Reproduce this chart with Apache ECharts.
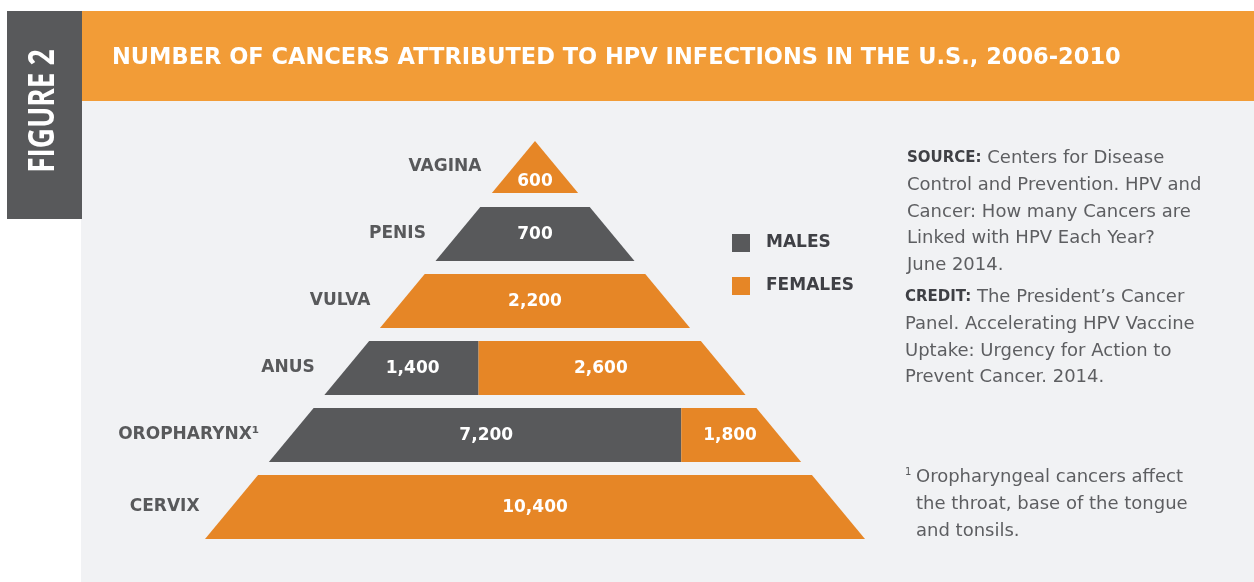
<!DOCTYPE html>
<html>
<head>
<meta charset="utf-8">
<title>Number of cancers attributed to HPV infections in the U.S., 2006-2010</title>
<script src="https://cdn.jsdelivr.net/npm/echarts@6/dist/echarts.min.js"></script>
<style>
  html, body { margin: 0; padding: 0; background: #fff; }
  #chart { width: 1254px; height: 582px; }
</style>
</head>
<body>
<div id="chart"></div>
<script>
// cancer sites, from the top of the pyramid down
const sites = ["VAGINA", "PENIS", "VULVA", "ANUS", "OROPHARYNX¹", "CERVIX"];
const males = [0, 700, 0, 1400, 7200, 0];
const females = [600, 0, 2200, 2600, 1800, 10400];
const legendNames = ["MALES", "FEMALES"];

const GRAY = "#58595b";
const ORANGE = "#e68626";
const HEADER = "#f29c37";
const PANEL = "#f1f2f4";
const FONT = '"DejaVu Sans", "Open Sans", sans-serif';

// pyramid layout: depth (px from the apex) of each band's top and bottom
const BANDS = [[0, 52], [66, 120], [133, 187], [200, 254], [267, 321], [334, 398]];
const DEPTH = 398;
const HALF = 330; // half width of the base
const halfAt = (d) => d * HALF / DEPTH;

const chart = echarts.init(document.getElementById("chart"));

// one trapezoid piece of a band, male part on the left, female on the right
function piece(isMale) {
  return function (params, api) {
    const i = api.value(0);
    const m = api.value(1);
    const f = api.value(2);
    const v = isMale ? m : f;
    if (!v) return null;
    const t = BANDS[i][0], b = BANDS[i][1];
    const hwT = halfAt(t), hwB = halfAt(b), hwM = (hwT + hwB) / 2;
    const share = m / (m + f);
    const xs = -hwM + 2 * hwM * share;
    let pts, cx;
    if (isMale) {
      const rT = f ? xs : hwT, rB = f ? xs : hwB;
      pts = [[-hwT, t], [rT, t], [rB, b], [-hwB, b]];
      cx = f ? (-hwM + xs) / 2 : 0;
    } else {
      const lT = m ? xs : -hwT, lB = m ? xs : -hwB;
      pts = [[lT, t], [hwT, t], [hwB, b], [lB, b]];
      cx = m ? (xs + hwM) / 2 : 0;
    }
    const cy = t === 0 ? t + (b - t) * 0.77 : (t + b) / 2;
    const p = api.coord([cx, cy]);
    return {
      type: "group",
      children: [
        {
          type: "polygon",
          shape: { points: pts.map((q) => api.coord(q)) },
          style: { fill: isMale ? GRAY : ORANGE }
        },
        {
          type: "text",
          x: p[0],
          y: p[1] + 1,
          style: {
            text: v.toLocaleString("en-US"),
            fill: "#fff",
            font: "bold 17px " + FONT,
            align: "center", verticalAlign: "middle",
            textAlign: "center", textVerticalAlign: "middle"
          }
        }
      ]
    };
  };
}

function siteLabel(params, api) {
  const i = api.value(0);
  const d = (BANDS[i][0] + BANDS[i][1]) / 2;
  const p = api.coord([-halfAt(d), d]);
  return {
    type: "text",
    x: p[0] - 32,
    y: p[1],
    style: {
      text: sites[i],
      fill: GRAY,
      font: "bold 17px " + FONT,
      align: "right", verticalAlign: "middle",
      textAlign: "right", textVerticalAlign: "middle"
    }
  };
}

const rows = sites.map((s, i) => [i, males[i], females[i]]);

const bodyText = {
  fill: "#5d5e61",
  font: "18px " + FONT,
  lineHeight: 26.75,
  verticalAlign: "top", textVerticalAlign: "top",
  rich: {
    b: { fontWeight: "bold", fontSize: 15, fill: "#3f4045", lineHeight: 26.75, fontFamily: FONT }
  }
};

const option = {
  backgroundColor: "#fff",
  animation: false,
  grid: { left: 205, top: 141, width: 2 * HALF, height: DEPTH },
  xAxis: { type: "value", min: -HALF, max: HALF, show: false },
  yAxis: { type: "value", min: 0, max: DEPTH, inverse: true, show: false },
  legend: {
    data: legendNames,
    orient: "vertical",
    left: 732,
    top: 234,
    padding: 0,
    itemGap: 25,
    itemWidth: 18,
    itemHeight: 18,
    icon: "rect",
    selectedMode: false,
    textStyle: {
      color: "#3f4045",
      fontFamily: FONT,
      fontWeight: "bold",
      fontSize: 17,
      padding: [3, 0, 0, 11]
    }
  },
  graphic: [
    { type: "rect", z: 0, shape: { x: 81, y: 101, width: 1173, height: 481 }, style: { fill: PANEL } },
    { type: "rect", z: 0, shape: { x: 81, y: 11, width: 1173, height: 90 }, style: { fill: HEADER } },
    { type: "rect", z: 1, shape: { x: 7, y: 11, width: 75, height: 208 }, style: { fill: GRAY } },
    {
      type: "text", z: 2, x: 44, y: 111, rotation: Math.PI / 2, scaleX: 0.8,
      style: {
        text: "FIGURE 2", fill: "#fff", font: 'bold 35px "Open Sans", sans-serif',
        align: "center", verticalAlign: "middle", textAlign: "center", textVerticalAlign: "middle"
      }
    },
    {
      type: "text", z: 2, x: 112, y: 58,
      style: {
        text: "NUMBER OF CANCERS ATTRIBUTED TO HPV INFECTIONS IN THE U.S., 2006-2010",
        fill: "#fff", font: "bold 22.5px " + FONT,
        verticalAlign: "middle", textVerticalAlign: "middle"
      }
    },
    {
      type: "text", z: 2, x: 907, y: 145,
      style: Object.assign({}, bodyText, {
        text: "{b|SOURCE:} Centers for Disease\nControl and Prevention. HPV and\nCancer: How many Cancers are\nLinked with HPV Each Year?\nJune 2014."
      })
    },
    {
      type: "text", z: 2, x: 905, y: 284,
      style: Object.assign({}, bodyText, {
        text: "{b|CREDIT:} The President\u2019s Cancer\nPanel. Accelerating HPV Vaccine\nUptake: Urgency for Action to\nPrevent Cancer. 2014."
      })
    },
    {
      type: "text", z: 2, x: 905, y: 467,
      style: { text: "1", fill: GRAY, font: "10px " + FONT }
    },
    {
      type: "text", z: 2, x: 916, y: 464,
      style: Object.assign({}, bodyText, {
        text: "Oropharyngeal cancers affect\nthe throat, base of the tongue\nand tonsils."
      })
    }
  ],
  series: [
    {
      name: "MALES", type: "custom", z: 3,
      itemStyle: { color: GRAY },
      renderItem: piece(true),
      data: rows
    },
    {
      name: "FEMALES", type: "custom", z: 3,
      itemStyle: { color: ORANGE },
      renderItem: piece(false),
      data: rows
    },
    {
      name: "sites", type: "custom", z: 3,
      renderItem: siteLabel,
      data: rows
    }
  ]
};

chart.setOption(option);
</script>
</body>
</html>
